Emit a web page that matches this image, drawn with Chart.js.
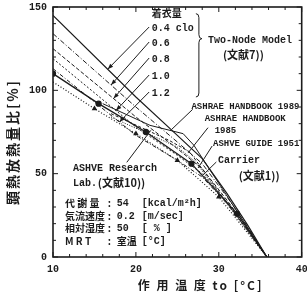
<!DOCTYPE html>
<html lang="ja">
<head>
<meta charset="UTF-8">
<title>顕熱放熱量比</title>
<style>
  html, body { margin: 0; padding: 0; background: #fff; }
  canvas { display: block; }
</style>
</head>
<body>
<canvas id="chart" width="307" height="292"></canvas>
<script src="https://cdn.jsdelivr.net/npm/chart.js"></script>
<script>
// two-node model, one line per clothing level (clo)
const nodeTemps = [10, 20, 25, 28, 31, 33.5, 35.8];
const clo04 = [145, 96, 73, 59, 38, 19, 0];
const clo06 = [134, 90, 69, 56, 36, 18, 0];
const clo08 = [125, 84, 65, 53, 34, 17, 0];
const clo10 = [119, 78, 61, 50, 33, 16, 0];
const clo12 = [113, 73, 58, 48, 32, 16, 0];

// other references
const carrierTemps = [10, 15.5, 21.2, 26.7, 32.2, 35.8];
const carrierVals = [110, 92, 75, 56, 26, 0];
const researchTemps = [10, 15, 20, 25, 30, 35.8];
const researchVals = [105, 89, 74, 58, 36, 0];
const ashrae89Temps = [16, 21.7, 25.7, 27, 35.8];
const ashrae89Vals = [92, 79, 74, 67, 0];
const ashrae85Temps = [17, 24, 26.5, 35.8];
const ashrae85Vals = [86, 70, 63, 0];
const guide51Temps = [17, 25, 27.2, 35.8];
const guide51Vals = [84, 66, 57, 0];

const xTicks = [10, 20, 30, 40];
const yTicks = [0, 50, 100, 150];

const INK = '#1c1c1c';
const MONO = '"Liberation Mono", monospace';
const JP = '"Noto Sans CJK JP", sans-serif';

function pts(ts, vs) {
  return ts.map((t, i) => ({x: t, y: vs[i]}));
}

// value of a series at temperature t (for arrow tips)
function valueAt(ts, vs, t) {
  for (let i = 1; i < ts.length; i++) {
    if (t <= ts[i]) {
      const f = (t - ts[i - 1]) / (ts[i] - ts[i - 1]);
      return vs[i - 1] + f * (vs[i] - vs[i - 1]);
    }
  }
  return vs[vs.length - 1];
}

function line(data, dash, width, extra) {
  return Object.assign({
    data: data,
    borderColor: INK,
    backgroundColor: INK,
    borderWidth: width,
    borderDash: dash,
    pointRadius: 0,
    tension: 0,
    fill: false
  }, extra || {});
}

const frameAndNotes = {
  id: 'frameAndNotes',
  afterDraw(chart) {
    const {ctx, chartArea: {left, top, right, bottom}, scales: {x, y}} = chart;
    const X = t => x.getPixelForValue(t);
    const Y = v => y.getPixelForValue(v);
    ctx.save();
    ctx.strokeStyle = INK;
    ctx.fillStyle = INK;

    // frame + inward ticks
    ctx.lineWidth = 1.6;
    ctx.strokeRect(left, top, right - left, bottom - top);
    ctx.lineWidth = 1;
    ctx.beginPath();
    for (let v = 0; v <= 150; v += 10) {
      const len = v % 50 === 0 ? 5 : 3;
      ctx.moveTo(left, Y(v)); ctx.lineTo(left + len, Y(v));
      ctx.moveTo(right, Y(v)); ctx.lineTo(right - len, Y(v));
    }
    for (let t = 10; t <= 40; t += 2) {
      const len = t % 10 === 0 ? 5 : 3;
      ctx.moveTo(X(t), bottom); ctx.lineTo(X(t), bottom - len);
      ctx.moveTo(X(t), top); ctx.lineTo(X(t), top + len);
    }
    ctx.stroke();

    // axis titles
    ctx.textBaseline = 'middle';
    ctx.textAlign = 'center';
    ctx.font = 'bold 14px ' + JP;
    ctx.letterSpacing = '2px';
    ctx.save();
    ctx.translate(13, (Y(0) + Y(150)) / 2 + 10);
    ctx.rotate(-Math.PI / 2);
    ctx.fillText('顕熱放熱量比[%]', 0, 0);
    ctx.restore();
    ctx.font = 'bold 12px ' + JP;
    ctx.fillText('作 用 温 度 to [°C]', X(27.8), 285);
    ctx.letterSpacing = '0px';

    // clothing labels and arrows
    ctx.textAlign = 'left';
    ctx.font = 'bold 10px ' + JP;
    ctx.fillText('着衣量', X(21.9), Y(146.4));
    ctx.font = 'bold 10px ' + MONO;
    const cloLabels = ['0.4 clo', '0.6', '0.8', '1.0', '1.2'];
    const cloSeries = [clo04, clo06, clo08, clo10, clo12];
    const labelV = [137.4, 128.4, 118.8, 108.6, 98.4];
    const tipT = [16.6, 17.0, 17.3, 17.6, 18.0];
    cloLabels.forEach((s, i) => {
      ctx.fillText(s, X(21.9), Y(labelV[i]));
      const x0 = X(21.6), y0 = Y(labelV[i]) - 1;
      const x1 = X(tipT[i]), y1 = Y(valueAt(nodeTemps, cloSeries[i], tipT[i]));
      ctx.beginPath();
      ctx.moveTo(x0, y0); ctx.lineTo(x1, y1);
      ctx.stroke();
      const a = Math.atan2(y1 - y0, x1 - x0);
      ctx.beginPath();
      ctx.moveTo(x1, y1);
      ctx.lineTo(x1 - 6 * Math.cos(a - 0.35), y1 - 6 * Math.sin(a - 0.35));
      ctx.lineTo(x1 - 6 * Math.cos(a + 0.35), y1 - 6 * Math.sin(a + 0.35));
      ctx.closePath();
      ctx.fill();
    });

    // brace
    const bx = X(27.6), bTop = Y(146), bMid = Y(131), bBot = Y(96);
    ctx.lineWidth = 1;
    ctx.beginPath();
    ctx.moveTo(bx - 3, bTop);
    ctx.quadraticCurveTo(bx, bTop, bx, bTop + 4);
    ctx.lineTo(bx, bMid - 4);
    ctx.quadraticCurveTo(bx, bMid, bx + 3, bMid);
    ctx.quadraticCurveTo(bx, bMid, bx, bMid + 4);
    ctx.lineTo(bx, bBot - 4);
    ctx.quadraticCurveTo(bx, bBot, bx - 3, bBot);
    ctx.stroke();

    ctx.font = 'bold 10px ' + MONO;
    ctx.fillText('Two-Node Model', X(28.7), Y(130.2));
    ctx.font = 'bold 11px ' + JP;
    ctx.fillText('(文献7))', X(30.5), Y(121.2));

    // reference labels
    ctx.font = 'bold 9px ' + MONO;
    ctx.fillText('ASHRAE HANDBOOK 1989', X(26.7), Y(90));
    ctx.fillText('ASHRAE HANDBOOK', X(28.3), Y(82.8));
    ctx.fillText('1985', X(29.5), Y(75.6));
    ctx.fillText('ASHVE GUIDE 1951', X(29.3), Y(67.8));
    ctx.font = 'bold 10px ' + MONO;
    ctx.fillText('Carrier', X(29.9), Y(58.2));
    ctx.font = 'bold 11px ' + JP;
    ctx.fillText('(文献1))', X(32.4), Y(48.6));
    ctx.font = 'bold 10px ' + MONO;
    ctx.fillText('ASHVE Research', X(12.4), Y(53.4));
    ctx.fillText('Lab.', X(12.4), Y(44.4));
    ctx.font = 'bold 11px ' + JP;
    ctx.fillText('(文献10))', X(15.4), Y(44.4));

    // leader lines
    const leaders = [
      [26.85, 88.6, 24.3, 76.5],
      [28.7, 77.6, 26.3, 62.5],
      [29.2, 66.6, 27.5, 53.4],
      [29.7, 57.0, 28.1, 49.2],
      [18.9, 56.8, 21.8, 76.0]
    ];
    ctx.beginPath();
    leaders.forEach(l => {
      ctx.moveTo(X(l[0]), Y(l[1]));
      ctx.lineTo(X(l[2]), Y(l[3]));
    });
    ctx.stroke();

    // condition block
    const rows = [
      ['代 謝 量', '54', '[kcal/m²h]'],
      ['気流速度', '0.2', '[m/sec]'],
      ['相対湿度', '50', '[ % ]'],
      ['M R T', '室温', '[°C]']
    ];
    const rowV = [32.4, 24.6, 17.2, 9.6];
    rows.forEach((r, i) => {
      const py = Y(rowV[i]);
      ctx.font = 'bold 10px ' + JP;
      ctx.fillText(r[0], X(11.45), py);
      ctx.fillText(':', X(16.6), py);
      ctx.font = (r[1] === '室温' ? 'bold 10px ' + JP : 'bold 10px ' + MONO);
      ctx.fillText(r[1], X(17.7), py);
      ctx.font = 'bold 10px ' + MONO;
      ctx.fillText(r[2], X(20.7), py);
    });

    ctx.restore();
  }
};

const config = {
  type: 'line',
  data: {
    datasets: [
      line(pts(nodeTemps, clo04), [], 1.2),
      line(pts(nodeTemps, clo06), [5, 2, 1, 2], 1),
      line(pts(nodeTemps, clo08), [4, 2], 1),
      line(pts(nodeTemps, clo10), [2, 2], 1),
      line(pts(nodeTemps, clo12), [4, 2, 1, 2], 1),
      line(pts(carrierTemps, carrierVals), [], 1.3, {pointRadius: [2.5, 2.5, 2.5, 2.5, 2.5, 0]}),
      line(pts(researchTemps, researchVals), [1, 2], 1.2, {pointRadius: [0, 2, 2, 2, 2, 0], pointStyle: 'triangle'}),
      line(pts(ashrae89Temps, ashrae89Vals), [], 1),
      line(pts(ashrae85Temps, ashrae85Vals), [3, 2], 1),
      line(pts(guide51Temps, guide51Vals), [1, 1.5], 1)
    ]
  },
  plugins: [frameAndNotes],
  options: {
    responsive: false,
    animation: false,
    layout: {padding: {left: 5, right: 5, top: 7, bottom: 0}},
    plugins: {legend: {display: false}, tooltip: {enabled: false}},
    scales: {
      x: {
        type: 'linear',
        min: 10,
        max: 40,
        afterBuildTicks: s => { s.ticks = xTicks.map(v => ({value: v})); },
        afterFit: s => { s.height = 35; s.paddingLeft = 0; s.paddingRight = 0; },
        grid: {display: false, drawTicks: false},
        border: {display: false},
        ticks: {color: INK, padding: 6, maxRotation: 0, font: {family: MONO, size: 10, weight: 'bold'}}
      },
      y: {
        min: 0,
        max: 150,
        afterBuildTicks: s => { s.ticks = yTicks.map(v => ({value: v})); },
        afterFit: s => { s.width = 48; s.paddingTop = 0; s.paddingBottom = 0; },
        grid: {display: false, drawTicks: false},
        border: {display: false},
        ticks: {color: INK, padding: 6, font: {family: MONO, size: 10, weight: 'bold'}}
      }
    }
  }
};

new Chart(document.getElementById('chart'), config);
</script>
</body>
</html>
